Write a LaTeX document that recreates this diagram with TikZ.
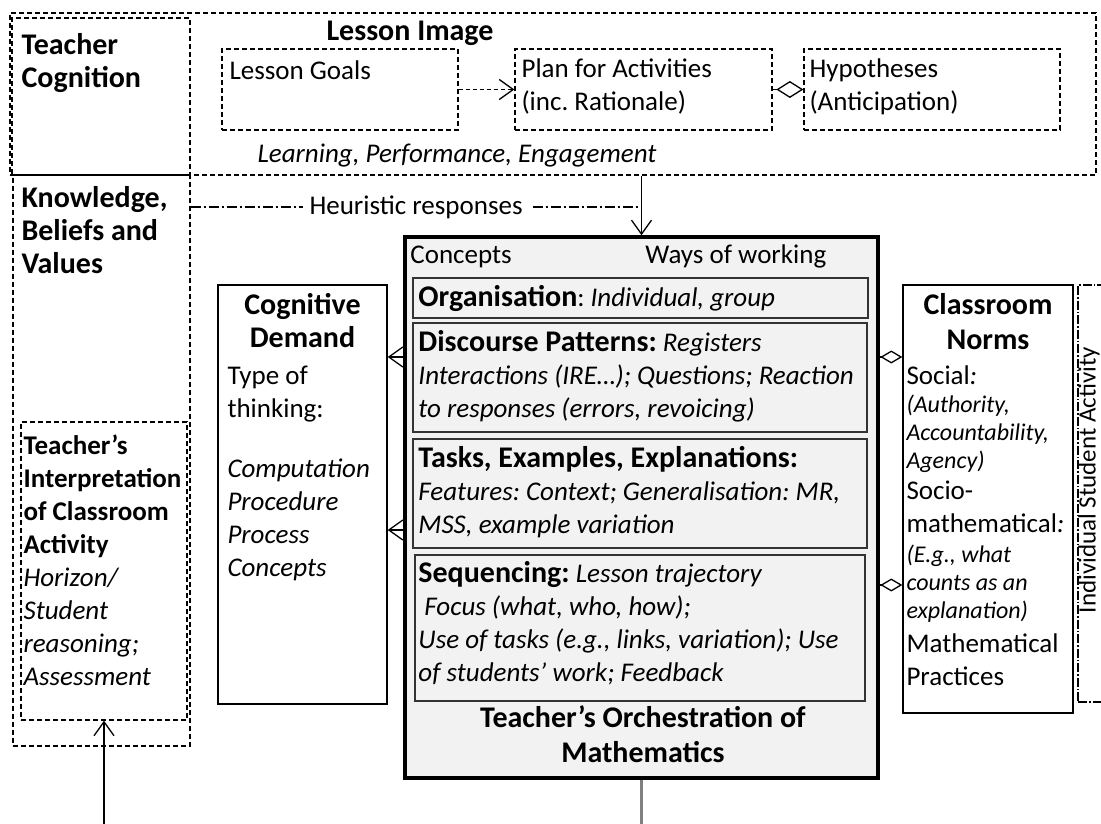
\documentclass[tikz,border=0pt]{standalone}
\usepackage{fontspec}
\setmainfont{Carlito}
\usepackage{tikz}
\usetikzlibrary{arrows.meta, positioning, calc}
\newcommand{\bodysz}{\fontsize{27}{33}\selectfont}
\newcommand{\headsz}{\fontsize{30}{33}\selectfont}
\newcommand{\notesz}{\fontsize{24}{28}\selectfont}
\frenchspacing
\tikzstyle{framebox} = [rectangle, draw=black, line width=1.3pt, dash pattern=on 5pt off 3pt, inner sep=0pt]
\tikzstyle{plainbox} = [rectangle, draw=black, line width=1.4pt, inner sep=0pt]
\tikzstyle{orchbox} = [rectangle, draw=black, line width=3.5pt, fill=black!5, inner sep=0pt]
\tikzstyle{partbox} = [rectangle, draw=black!80, line width=1.5pt, fill=black!5, inner sep=0pt]
\tikzstyle{isabox} = [rectangle, draw=black, line width=1.3pt, dash pattern=on 9pt off 2pt on 1.5pt off 2pt, inner sep=0pt]
\tikzstyle{txt} = [inner sep=0pt, anchor=base west, align=flush left, font=\bodysz]
\tikzstyle{head} = [inner sep=0pt, anchor=base, align=flush center, font=\headsz\bfseries]
\tikzstyle{arrow} = [line width=1.3pt, -{Straight Barb[length=14pt, width=20pt]}]
\tikzstyle{diamondlink} = [line width=1.3pt, -{Diamond[open, length=22pt, width=13pt]}]
\tikzstyle{heurline} = [line width=1.1pt, dash pattern=on 10pt off 3pt on 2pt off 3pt]

\begin{document}
\begin{tikzpicture}[x=1pt, y=-1pt]
    \clip (0,0) rectangle (1101,824);
    % teacher cognition
    \node (cogframe) [framebox, minimum width=1086pt, minimum height=162pt] at (553,94) {};
    \node (tcog) [framebox, minimum width=178pt, minimum height=157pt] at (101,96.5) {};
    \node (kbv) [framebox, minimum width=177pt, minimum height=571pt] at (101.5,460.5) {};
    \node (interp) [framebox, minimum width=166pt, minimum height=298pt] at (104,571) {};
    \node (goals) [framebox, minimum width=236pt, minimum height=81pt] at (340,89.5) {};
    \node (plan) [framebox, minimum width=257pt, minimum height=81pt] at (643.5,89.5) {};
    \node (hyp) [framebox, minimum width=256pt, minimum height=81pt] at (932,89.5) {};

    \node (tcogtext) [txt, text width=165pt, font=\headsz\bfseries] at ([shift={(10,37)}]tcog.north west) {Teacher\\Cognition};
    \node (lessonimg) [head, text width=200pt] at (410,41) {Lesson Image};
    \node (goalstext) [txt, text width=225pt] at ([shift={(8,31)}]goals.north west) {Lesson Goals};
    \node (plantext) [txt, text width=245pt] at ([shift={(7,29)}]plan.north west) {Plan for Activities\\(inc. Rationale)};
    \node (hyptext) [txt, text width=245pt] at ([shift={(6,29)}]hyp.north west) {Hypotheses\\(Anticipation)};
    \node (goalkinds) [inner sep=0pt, anchor=base, font=\bodysz\itshape] at (457,163) {Learning, Performance, Engagement};
    \node (kbvtext) [txt, text width=165pt, font=\headsz\bfseries] at ([shift={(9,33)}]kbv.north west) {Knowledge,\\Beliefs and\\Values};
    \node (interptext) [txt, text width=165pt] at ([shift={(3,33)}]interp.north west) {\textbf{Teacher’s}\\\textbf{Interpretation}\\\textbf{of Classroom}\\\textbf{Activity}\\\textit{Horizon/}\\\textit{Student}\\\textit{reasoning;}\\\textit{Assessment}};

    % cognitive demand
    \node (cogdem) [plainbox, minimum width=169pt, minimum height=419pt] at (302.5,494.5) {};
    \node (cogdemhead) [head, text width=160pt] at ([shift={(0,30)}]cogdem.north) {Cognitive\\Demand};
    \node (thinking) [txt, text width=155pt] at ([shift={(10,100)}]cogdem.north west) {Type of\\thinking:};
    \node (thinkkinds) [txt, text width=155pt, font=\bodysz\itshape] at ([shift={(10,193)}]cogdem.north west) {Computation\\Procedure\\Process\\Concepts};

    % orchestration
    \node (orch) [orchbox, minimum width=473pt, minimum height=541pt] at (641.5,507.5) {};
    \node (concepts) [txt, text width=150pt] at ([shift={(7,28)}]orch.north west) {Concepts};
    \node (ways) [txt, text width=200pt] at ([shift={(242,28)}]orch.north west) {Ways of working};
    \node (org) [partbox, minimum width=455pt, minimum height=40pt] at (640.5,298) {};
    \node (disc) [partbox, minimum width=454pt, minimum height=109pt] at (640,377.5) {};
    \node (tasks) [partbox, minimum width=454pt, minimum height=109pt] at (640,493.5) {};
    \node (seq) [partbox, minimum width=450pt, minimum height=146pt] at (640,628) {};
    \node (orgtext) [txt, text width=445pt] at ([shift={(6,29)}]org.north west) {{\headsz\bfseries Organisation}: \textit{Individual, group}};
    \node (disctext) [txt, text width=448pt] at ([shift={(6,29)}]disc.north west) {{\headsz\bfseries Discourse Patterns:} \textit{Registers}\\\textit{Interactions (IRE…); Questions; Reaction}\\\textit{to responses (errors, revoicing)}};
    \node (taskstext) [txt, text width=448pt] at ([shift={(6,29)}]tasks.north west) {{\headsz\bfseries Tasks, Examples, Explanations:}\\\textit{Features: Context; Generalisation: MR,}\\\textit{MSS, example variation}};
    \node (seqtext) [txt, text width=445pt] at ([shift={(4,28)}]seq.north west) {{\headsz\bfseries Sequencing:} \textit{Lesson trajectory}\\\hspace*{6pt}\textit{Focus (what, who, how);}\\\textit{Use of tasks (e.g., links, variation); Use}\\\textit{of students’ work; Feedback}};
    \node (orchhead) [head, text width=440pt, font=\fontsize{30}{35}\selectfont\bfseries] at ([shift={(1.5,-52)}]orch.south) {Teacher’s Orchestration of\\Mathematics};

    % classroom norms
    \node (norms) [plainbox, minimum width=170pt, minimum height=428pt] at (988,499) {};
    \node (normshead) [head, text width=160pt, font=\fontsize{30}{35}\selectfont\bfseries] at ([shift={(0,30)}]norms.north) {Classroom\\Norms};
    \node (social) [txt, text width=165pt] at ([shift={(4,100)}]norms.north west) {Social\textit{:}};
    \node (socialkinds) [txt, text width=165pt, font=\notesz\itshape] at ([shift={(4,128)}]norms.north west) {(Authority,\\Accountability,\\Agency)};
    \node (socio) [txt, text width=165pt] at ([shift={(4,215)}]norms.north west) {Socio-\\mathematical\textit{:}};
    \node (sociokinds) [txt, text width=165pt, font=\notesz\itshape] at ([shift={(4,278)}]norms.north west) {(E.g., what\\counts as an\\explanation)};
    \node (practices) [txt, text width=165pt] at ([shift={(4,368)}]norms.north west) {Mathematical\\Practices};

    \node (isa) [isabox, minimum width=52pt, minimum height=417pt] at (1104,493.5) {};
    \node (isatext) [inner sep=0pt, anchor=base, rotate=90, font=\fontsize{25}{30}\selectfont] at (1095.5,480) {Individual Student Activity};

    % links
    \draw [arrow, dash pattern=on 4pt off 3pt] (goals) -- (plan);
    \draw [dash pattern=on 4pt off 3pt, line width=1.3pt, -{Diamond[open, length=27pt, width=17pt]}] (plan) -- (hyp);
    \draw [arrow] (orch.north |- cogframe.south) -- (orch.north);
    \coordinate (heurjoin) at (orch.north |- 0,207);
    \draw [heurline] (kbv.east |- heurjoin) -- node[fill=white, inner sep=7pt, font=\bodysz] {Heuristic responses} (heurjoin);
    \coordinate (discrow) at (0,357);
    \coordinate (tasksrow) at (0,530);
    \coordinate (sociorow) at (0,585);
    \draw [arrow] (orch.west |- discrow) -- (cogdem.east |- discrow);
    \draw [arrow] (orch.west |- tasksrow) -- (cogdem.east |- tasksrow);
    \draw [diamondlink] (orch.east |- discrow) -- (norms.west |- discrow);
    \draw [diamondlink] (orch.east |- sociorow) -- (norms.west |- sociorow);
    % off the page
    \coordinate (feedin) at (interp.south |- 0,824);
    \draw [arrow] (feedin) -- (interp.south);
    \coordinate (feedout) at (orch.south |- 0,824);
    \draw [gray, line width=2.5pt] (orch.south) -- (feedout);
\end{tikzpicture}
\end{document}
